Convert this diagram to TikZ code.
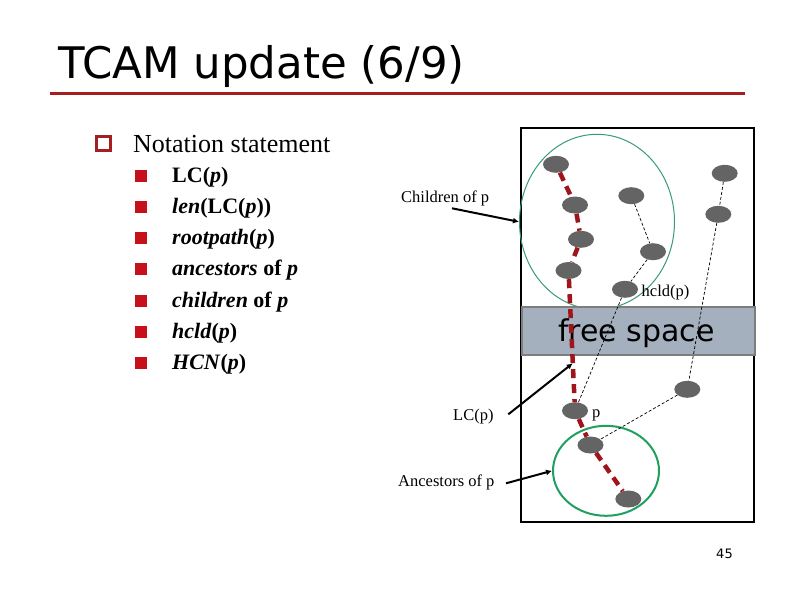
\documentclass[tikz,border=0pt]{standalone}
\usepackage{fontspec}
\setmainfont{Liberation Serif}
\newfontfamily\verd{DejaVu Sans}
\usetikzlibrary{shapes.geometric,arrows.meta}
\definecolor{titlered}{HTML}{A51E22}
\definecolor{bulletred}{HTML}{C8101A}
\definecolor{pathred}{HTML}{A0141C}
\definecolor{cellgray}{HTML}{646464}
\definecolor{bandfill}{HTML}{A4B0BE}
\definecolor{bandedge}{HTML}{7E7E7E}
\definecolor{kidgreen}{HTML}{3A9A78}
\definecolor{ancgreen}{HTML}{20A060}
\tikzset{
  cell/.style={ellipse, fill=cellgray, minimum width=26pt, minimum height=17pt, inner sep=0pt},
  lchain/.style={draw=pathred, line width=4.5pt, dash pattern=on 9pt off 6pt},
  tchain/.style={draw=black, line width=0.7pt, dash pattern=on 3pt off 2pt},
  pointer/.style={line width=2pt, -{Latex[length=6pt,width=6pt]}},
  lbl/.style={font=\fontsize{16.5}{18}\selectfont, inner sep=0pt, anchor=base west},
  item/.style={font=\fontsize{22}{24}\selectfont\bfseries, inner sep=0pt, anchor=base west},
  sub/.style={fill=bulletred, minimum size=12pt, inner sep=0pt}
}
\begin{document}
\begin{tikzpicture}[x=1pt, y=-1pt]
\useasboundingbox (0,0) rectangle (794,595);
% title
\node[anchor=base west, inner sep=0pt, font=\verd\fontsize{43.5}{50}\selectfont] (title) at (58,78) {TCAM update (6/9)};
\draw[titlered, line width=3pt] (50,93) -- (745,93);
% notation list
\node[draw=titlered, line width=2.5pt, minimum size=14pt, inner sep=0pt] (sq) at (103.5,143.5) {};
\node[anchor=base west, inner sep=0pt, font=\fontsize{26}{28}\selectfont] (head) at (133,152) {Notation statement};
\node[sub] (b1) at (141,175.5) {};
\node[item] (i1) at (172,182) {LC(\textit{p})};
\node[sub] (b2) at (141,206.8) {};
\node[item] (i2) at (172,213.3) {\textit{len}(LC(\textit{p}))};
\node[sub] (b3) at (141,238.1) {};
\node[item] (i3) at (172,244.6) {\textit{rootpath}(\textit{p})};
\node[sub] (b4) at (141,269.4) {};
\node[item] (i4) at (172,275.9) {\textit{ancestors} of \textit{p}};
\node[sub] (b5) at (141,300.7) {};
\node[item] (i5) at (172,307.2) {\textit{children} of \textit{p}};
\node[sub] (b6) at (141,332) {};
\node[item] (i6) at (172,338.5) {\textit{hcld}(\textit{p})};
\node[sub] (b7) at (141,363.3) {};
\node[item] (i7) at (172,369.8) {\textit{HCN}(\textit{p})};
% memory
\draw[line width=2.5pt] (521,128) rectangle (754,522);
\node[ellipse, draw=kidgreen, line width=1pt, minimum width=155pt, minimum height=175pt, inner sep=0pt] (kids) at (597,221.8) {};
\node[anchor=north west, fill=bandfill, draw=bandedge, line width=2pt, minimum width=233pt, minimum height=48pt, inner sep=0pt] (band) at (521,306) {};
\node[anchor=base, inner sep=0pt, font=\verd\fontsize{30}{32}\selectfont] (fs) at (636.5,341.7) {free space};
\node[ellipse, draw=ancgreen, line width=2pt, minimum width=106pt, minimum height=90pt, inner sep=0pt] (anc) at (606,470.8) {};
% cells
\node[cell] (r1) at (556,164.3) {};
\node[cell] (r2) at (575,205) {};
\node[cell] (r3) at (581,239.3) {};
\node[cell] (r4) at (568.5,270.5) {};
\node[cell] (m1) at (631.3,195.7) {};
\node[cell] (m2) at (653,251.7) {};
\node[cell] (h) at (625,289.3) {};
\node[cell] (s1) at (724.7,173.3) {};
\node[cell] (s2) at (718.3,214.3) {};
\node[cell] (s3) at (687.3,389.3) {};
\node[cell] (p) at (575,410.7) {};
\node[cell] (a1) at (590.5,445) {};
\node[cell] (a2) at (628.3,499) {};
\draw[tchain] (m1) -- (m2) -- (h) -- (p);
\draw[tchain] (s1) -- (s2) -- (s3) -- (a1);
\draw[lchain] (r1) -- (r2) -- (r3) -- (r4) -- (p) -- (a1) -- (a2);
% labels
\node[lbl] (hl) at (641.5,296) {hcld(p)};
\node[lbl] (pl) at (592,417) {p};
\node[lbl] (kl) at (401,202) {Children of p};
\node[lbl] (ll) at (453,420) {LC(p)};
\node[lbl] (al) at (398,486) {Ancestors of p};
\coordinate (kt) at (452,208.3);
\coordinate (lt) at (508.3,414.3);
\coordinate (lh) at (572.7,363.3);
\coordinate (at) at (506,483.3);
\draw[pointer] (kt) -- (kids.west);
\draw[pointer] (lt) -- (lh);
\draw[pointer] (at) -- (anc.west);
\node[anchor=base, inner sep=0pt, font=\verd\fontsize{13}{14}\selectfont] (pg) at (724.5,558) {45};
\end{tikzpicture}
\end{document}
